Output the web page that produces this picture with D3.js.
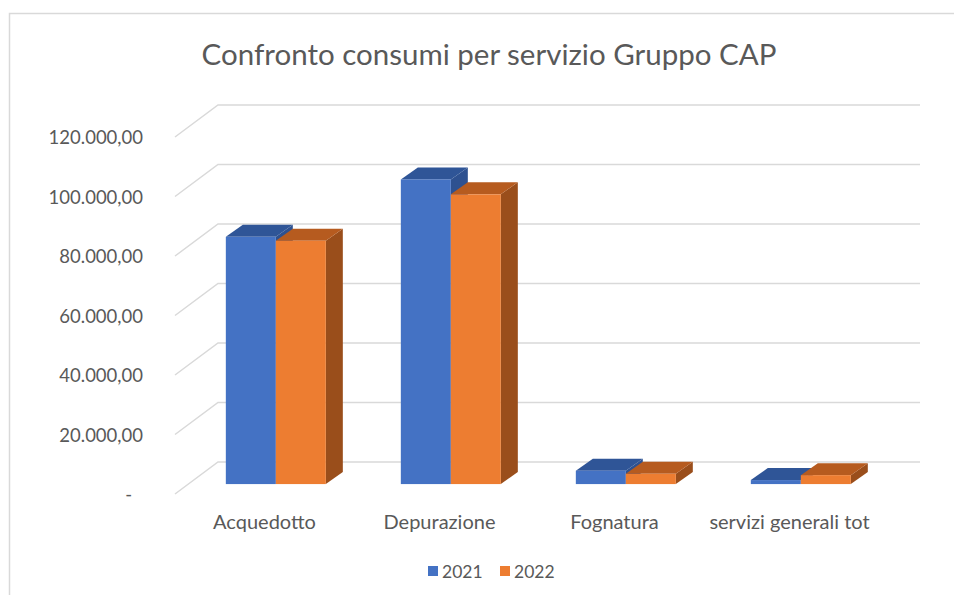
<!DOCTYPE html>
<html>
<head>
<meta charset="utf-8">
<script src="https://cdn.jsdelivr.net/npm/d3@7"></script>
<style>
    body { margin: 0; background: #fff; }
    svg { display: block; font-family: Lato, "Open Sans", sans-serif; }
</style>
</head>
<body>
<svg id="chart" width="954" height="595"></svg>
<script>
var title = "Confronto consumi per servizio Gruppo CAP"
var categories = ["Acquedotto", "Depurazione", "Fognatura", "servizi generali tot"]
var years = ["2021", "2022"]
var values_2021 = [83100, 102400, 4500, 1350]
var values_2022 = [81800, 97400, 3450, 3000]
var y_ticks = [0, 20000, 40000, 60000, 80000, 100000, 120000]

// front face, top face, side face
var year_colors = {
    "2021": ["#4472C4", "#2F5597", "#2E5190"],
    "2022": ["#ED7D31", "#B65B1F", "#9A4E1B"]
}

var front_left = 175
var front_bottom = 494
var plot_width = 700
var plot_height = 357
var floor_dx = 43, floor_dy = -32   // depth of the floor
var bar_dx = 17, bar_dy = -12       // depth of a single bar
var bar_shift = 0.31                // where the bar front sits inside the floor

var it = d3.formatLocale({ decimal: ",", thousands: ".", grouping: [3], currency: ["", "€"] })
var fmt = it.format(",.2f")

var svg = d3.select("#chart")
var text_color = "#595959"
var grid_color = "#D9D9D9"

// chart area border (runs off the right and bottom of the picture)
svg.append("rect")
    .attr("x", 9.5).attr("y", 13.5)
    .attr("width", 1000).attr("height", 1000)
    .attr("fill", "none").attr("stroke", grid_color).attr("stroke-width", 1.5)

svg.append("text")
    .attr("x", 489).attr("y", 53)
    .attr("text-anchor", "middle").attr("dominant-baseline", "central")
    .attr("fill", text_color).style("font-size", "29.5px")
    .text(title)

var y = d3.scaleLinear().domain([0, 120000]).range([0, plot_height])
var x = d3.scaleBand().domain(categories).range([0, plot_width])
var x_year = d3.scaleBand().domain(years).range([0, 100])

// gridlines: diagonal on the side wall + horizontal on the back wall
var grid = svg.append("g").attr("id", "id_g_grid")
y_ticks.forEach(v => {
    var yf = front_bottom - y(v)
    var yb = yf + floor_dy
    grid.append("path")
        .attr("d", "M" + front_left + "," + yf + "L" + (front_left + floor_dx) + "," + yb + "H" + (front_left + floor_dx + plot_width + 2))
        .attr("fill", "none").attr("stroke", grid_color).attr("stroke-width", 1.5)
    svg.append("text")
        .attr("x", v == 0 ? 132 : 143).attr("y", yf)
        .attr("text-anchor", "end").attr("dominant-baseline", "central")
        .attr("fill", text_color).style("font-size", "18.5px")
        .text(v == 0 ? "-" : fmt(v))
})

function draw_bar(g, x0, y0, w, h, colors) {
    var yt = y0 - h
    g.append("path")  // side
        .attr("d", "M" + (x0 + w) + "," + y0 + "l" + bar_dx + "," + bar_dy + "V" + (yt + bar_dy) + "L" + (x0 + w) + "," + yt + "Z")
        .attr("fill", colors[2])
    g.append("path")  // top
        .attr("d", "M" + x0 + "," + yt + "l" + bar_dx + "," + bar_dy + "h" + w + "L" + (x0 + w) + "," + yt + "Z")
        .attr("fill", colors[1])
    g.append("rect")  // front
        .attr("x", x0).attr("y", yt)
        .attr("width", w).attr("height", h)
        .attr("fill", colors[0])
}

var bars = svg.append("g").attr("id", "id_g_bars")
var bar_x0 = front_left + floor_dx * bar_shift
var bar_y0 = front_bottom + floor_dy * bar_shift
var series = { "2021": values_2021, "2022": values_2022 }
categories.forEach((c, i) => {
    var pad = (x.bandwidth() - 100) / 2
    years.forEach(yr => {
        draw_bar(bars, bar_x0 + x(c) + pad + x_year(yr), bar_y0, x_year.bandwidth(), y(series[yr][i]), year_colors[yr])
    })
    svg.append("text")
        .attr("x", front_left + x(c) + x.bandwidth() / 2 + 2).attr("y", 521)
        .attr("text-anchor", "middle").attr("dominant-baseline", "central")
        .attr("fill", text_color).style("font-size", "20px")
        .text(c)
})

// legend
var legend = svg.append("g").attr("id", "id_g_legend")
var legend_x = [428, 500]
years.forEach((yr, i) => {
    legend.append("rect")
        .attr("x", legend_x[i]).attr("y", 566)
        .attr("width", 10).attr("height", 10)
        .attr("fill", year_colors[yr][0])
    legend.append("text")
        .attr("x", legend_x[i] + 14).attr("y", 571)
        .attr("dominant-baseline", "central")
        .attr("fill", text_color).style("font-size", "17.5px")
        .text(yr)
})
</script>
</body>
</html>
